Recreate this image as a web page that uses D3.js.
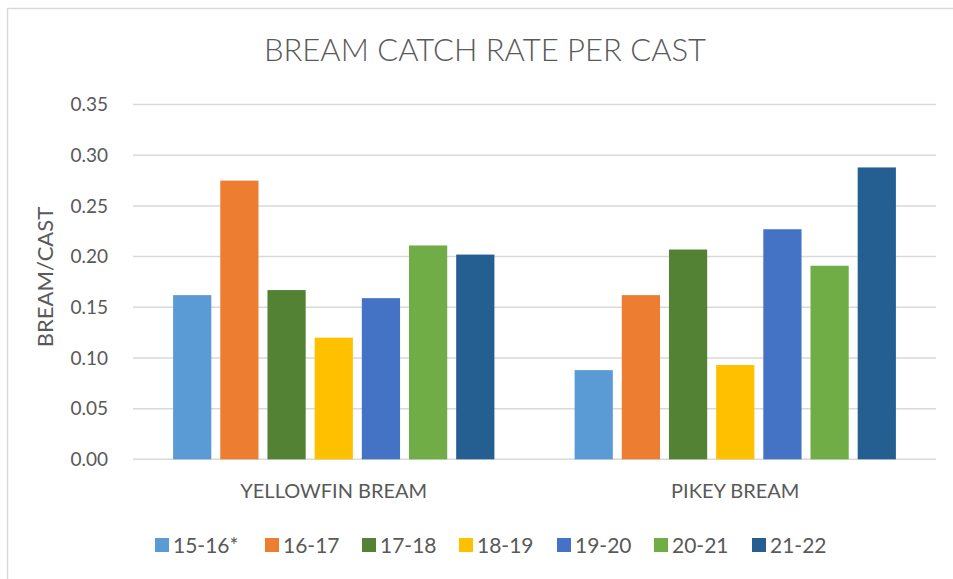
<!DOCTYPE html>
<html>
<head>
<meta charset="utf-8">
<script src="https://cdn.jsdelivr.net/npm/d3@7"></script>
<style>
  body { margin: 0; background: #fff; }
  svg { display: block; }
  text { font-family: Lato, "Open Sans", sans-serif; fill: #595959; }
</style>
</head>
<body>
<svg id="chart"></svg>
<script>
// Data
const categories = ["YELLOWFIN BREAM", "PIKEY BREAM"];
const seasons = ["15-16*", "16-17", "17-18", "18-19", "19-20", "20-21", "21-22"];
const yellowfin = [0.162, 0.275, 0.167, 0.120, 0.159, 0.211, 0.202];
const pikey = [0.088, 0.162, 0.207, 0.093, 0.227, 0.191, 0.288];
const yTicks = [0, 0.05, 0.10, 0.15, 0.20, 0.25, 0.30, 0.35];
const colors = ["#5B9BD5", "#ED7D31", "#548235", "#FFC000", "#4472C4", "#70AD47", "#255E91"];

const seriesByCat = [yellowfin, pikey];

const W = 953, H = 579;
const svg = d3.select("#chart").attr("width", W).attr("height", H);

// chart frame (only top and left edges are visible)
svg.append("line").attr("x1", 7.5).attr("x2", 7.5).attr("y1", 8).attr("y2", H)
  .attr("stroke", "#D9D9D9").attr("stroke-width", 1.5);
svg.append("line").attr("x1", 7).attr("x2", W).attr("y1", 8.5).attr("y2", 8.5)
  .attr("stroke", "#D9D9D9").attr("stroke-width", 1.5);

const margin = { top: 104.6, right: 17, bottom: 119.7, left: 133 };
const width = W - margin.left - margin.right;
const height = H - margin.top - margin.bottom;

const chart = svg.append("g")
  .attr("transform", `translate(${margin.left},${margin.top})`);

const y = d3.scaleLinear().domain([0, 0.35]).range([height, 0]);

const x0 = d3.scaleBand().domain(categories).range([0, width]).padding(0);
const x1 = d3.scaleBand().domain(seasons).range([0, x0.bandwidth()])
  .paddingInner(0.19).paddingOuter(0.85);

// gridlines
chart.selectAll(".grid")
  .data(yTicks)
  .join("line")
  .attr("class", "grid")
  .attr("x1", 0)
  .attr("x2", width)
  .attr("y1", d => y(d))
  .attr("y2", d => y(d))
  .attr("stroke", "#D9D9D9")
  .attr("stroke-width", 1.5);

// bars
const groups = chart.selectAll(".group")
  .data(categories)
  .join("g")
  .attr("class", "group")
  .attr("transform", d => `translate(${x0(d)},0)`);

groups.selectAll("rect")
  .data((d, i) => seriesByCat[i].map((v, j) => ({ season: seasons[j], value: v, color: colors[j] })))
  .join("rect")
  .attr("x", d => x1(d.season))
  .attr("y", d => y(d.value))
  .attr("width", x1.bandwidth())
  .attr("height", d => y(0) - y(d.value))
  .attr("fill", d => d.color);

// y axis (labels only)
const yAxis = d3.axisLeft(y)
  .tickValues(yTicks)
  .tickFormat(d3.format(".2f"))
  .tickSize(0)
  .tickPadding(25);

const yg = chart.append("g").call(yAxis);
yg.select(".domain").remove();
yg.selectAll("text")
  .style("font-size", "19px")
  .attr("fill", "#595959");

// x axis (category labels)
const xAxis = d3.axisBottom(x0).tickSize(0).tickPadding(25);
const xg = chart.append("g").attr("transform", `translate(0,${height})`).call(xAxis);
xg.select(".domain").remove();
xg.selectAll("text")
  .style("font-size", "20px")
  .attr("fill", "#595959");

// y axis title
svg.append("text")
  .attr("transform", "translate(53,277) rotate(-90)")
  .attr("text-anchor", "middle")
  .attr("font-size", "22px")
  .text("BREAM/CAST");

// title
svg.append("text")
  .attr("x", 485)
  .attr("y", 61)
  .attr("text-anchor", "middle")
  .attr("font-size", "31px")
  .attr("font-weight", 300)
  .text("BREAM CATCH RATE PER CAST");

// legend
const legendX = [155, 265, 362, 459, 557, 654, 752];
const legend = svg.selectAll(".legend")
  .data(seasons)
  .join("g")
  .attr("class", "legend")
  .attr("transform", (d, i) => `translate(${legendX[i]},545)`);

legend.append("rect")
  .attr("x", 0)
  .attr("y", -7)
  .attr("width", 14)
  .attr("height", 14)
  .attr("fill", (d, i) => colors[i]);

legend.append("text")
  .attr("x", 18)
  .attr("y", 0)
  .attr("dy", "0.36em")
  .attr("font-size", "21px")
  .text(d => d);
</script>
</body>
</html>
